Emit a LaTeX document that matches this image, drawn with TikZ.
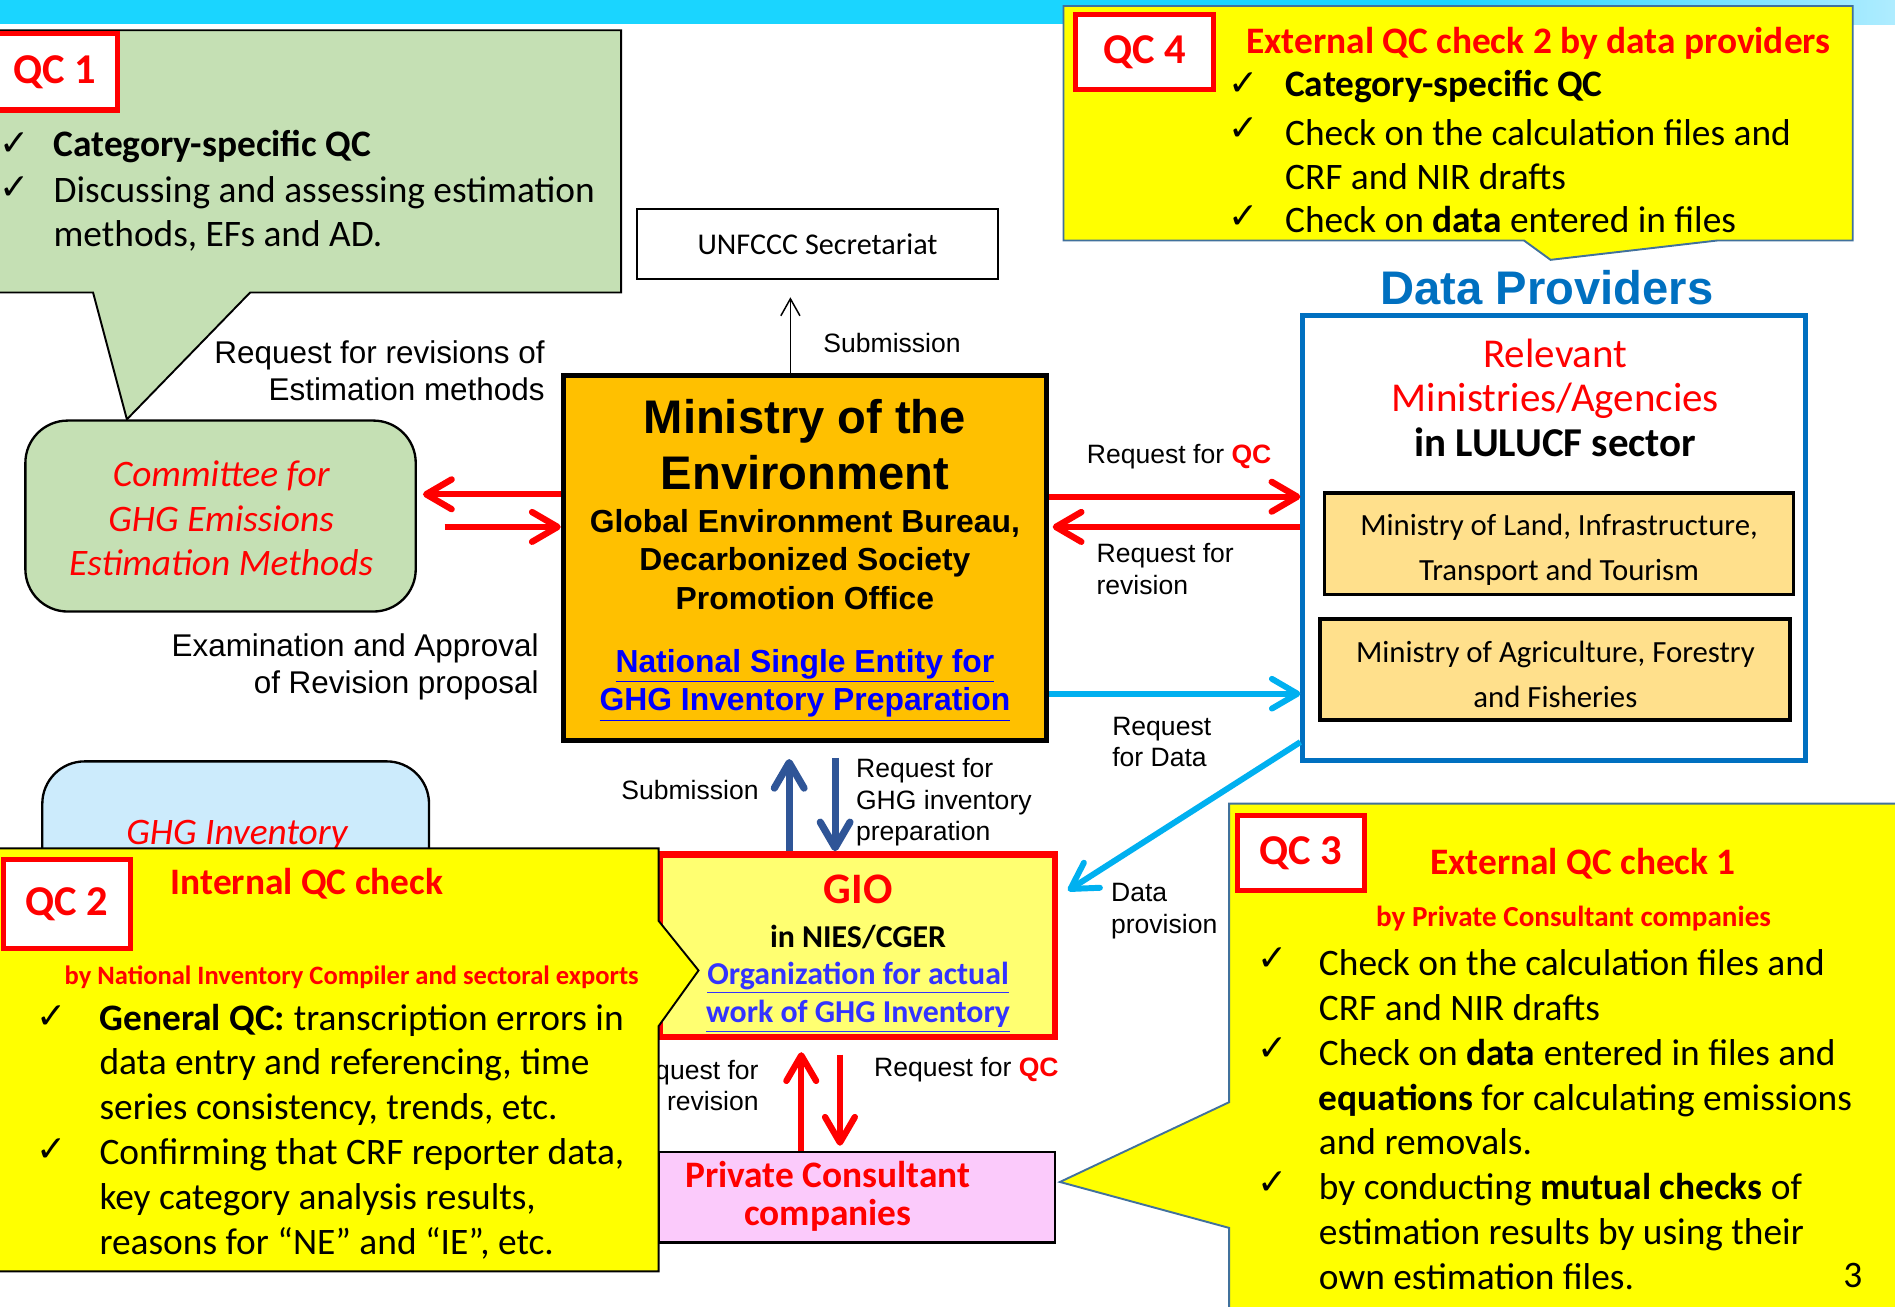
\documentclass[tikz,border=0pt]{standalone}
\usepackage{fontspec}
\setmainfont{Carlito}
\newfontfamily\arialfont{Liberation Sans}
\newfontfamily\symfont{DejaVu Sans}
\usetikzlibrary{arrows.meta,fit}

\definecolor{bandcyan}{RGB}{26,213,255}
\definecolor{bandlight}{RGB}{175,236,255}
\definecolor{qcgreen}{RGB}{197,224,180}
\definecolor{qcyellow}{RGB}{255,255,0}
\definecolor{qcred}{RGB}{255,0,0}
\definecolor{moeorange}{RGB}{255,192,0}
\definecolor{gioyellow}{RGB}{255,255,113}
\definecolor{pvtpink}{RGB}{251,202,251}
\definecolor{ghgblue}{RGB}{204,235,252}
\definecolor{mingold}{RGB}{255,224,140}
\definecolor{dpblue}{RGB}{0,112,192}
\definecolor{arrcyan}{RGB}{0,176,240}
\definecolor{arrblue}{RGB}{47,85,151}
\definecolor{callblue}{RGB}{65,113,156}
\definecolor{linkblue}{RGB}{0,0,255}
\definecolor{giolink}{RGB}{51,51,255}

\begin{document}
\begin{tikzpicture}[x=0.2mm, y=-0.2mm,
    box/.style={draw, inner sep=0pt},
    rbox/.style={draw, line width=1.1pt, rounded corners=7mm, inner sep=0pt},
    qclab/.style={draw=qcred, line width=2.5pt, fill=white, inner sep=0pt},
    qcnum/.style={text=qcred, font=\fontsize{20}{24}\selectfont\bfseries, inner sep=0pt},
    qctitle/.style={font=\fontsize{17.6}{21}\selectfont\bfseries, text=qcred, inner sep=0pt},
    qcsub/.style={font=\fontsize{12.5}{15}\selectfont\bfseries, text=qcred, inner sep=0pt},
    body/.style={font=\fontsize{17.6}{21}\selectfont, align=left, anchor=west, inner sep=0pt},
    chk/.style={font=\symfont\fontsize{17}{19}\selectfont, inner sep=0pt},
    biglbl/.style={font=\arialfont\fontsize{14.8}{17.6}\selectfont, align=right, anchor=east, inner sep=0pt},
    lbl/.style={font=\arialfont\fontsize{12.5}{14.8}\selectfont, align=left, anchor=west, inner sep=0pt},
    mintext/.style={font=\fontsize{14.5}{21}\selectfont, align=center, inner sep=0pt},
    callout/.style={line width=0.9pt},
    thinarr/.style={line width=0.7pt, -{Straight Barb[length=8pt,width=9pt]}},
    redarr/.style={draw=qcred, line width=3pt, -{Straight Barb[length=12pt,width=14pt,round]}},
    bluearr/.style={draw=arrblue, line width=3.4pt, -{Straight Barb[length=12pt,width=14pt,round]}},
    cyanarr/.style={draw=arrcyan, line width=2.8pt, -{Straight Barb[length=12pt,width=14pt,round]}}
]
\useasboundingbox (0,0) rectangle (1568,1081);
\fill[bandcyan] (0,0) rectangle (1200,20);
\shade[left color=bandcyan, right color=bandlight] (1199,0) rectangle (1568,20);

% QC 1
\draw[callout, fill=qcgreen] (-5,25) -- (514,25) -- (514,242) -- (207,242) -- (105,347) -- (77,242) -- (-5,242) -- cycle;
\node[qclab, fit={(-5,28) (97,91)}] (qc1) {};
\node[qcnum] (qc1num) at (45,60) {QC 1};
\node[chk] (qc1c1) at (12,119) {✓};
\node[chk] (qc1c2) at (12,156) {✓};
\node[body] (qc1t1) at (44,121) {\textbf{Category-specific QC}};
\node[body] (qc1t2) at (44,177) {Discussing and assessing estimation\\methods, EFs and AD.};

% central boxes
\node[box, line width=1.1pt, fit={(527,173) (826,231)}] (unf) {};
\node[font=\fontsize{14.2}{17}\selectfont, inner sep=0pt] (unftext) at (unf) {UNFCCC Secretariat};
\node[box, line width=2.3pt, fill=moeorange, fit={(466,311) (866,613)}] (moe) {};
\node[font=\arialfont\bfseries\fontsize{22.2}{26.2}\selectfont, align=center, inner sep=0pt] (moetitle) at (666,368) {Ministry of the\\Environment};
\node[font=\arialfont\bfseries\fontsize{15}{18}\selectfont, align=center, inner sep=0pt] (moesub) at (666,463) {Global Environment Bureau,\\Decarbonized Society\\Promotion Office};
\node[font=\arialfont\bfseries\fontsize{15}{18.2}\selectfont, align=center, text=linkblue, inner sep=0pt] (moelink) at (666,567) {\underline{National Single Entity for}\\\underline{GHG Inventory Preparation}};

\node[rbox, fill=qcgreen, fit={(21,348) (344,506)}] (comm) {};
\node[font=\fontsize{17.6}{21}\selectfont\itshape, text=qcred, align=center, inner sep=0pt] (commtext) at (183,429) {Committee for\\GHG Emissions\\Estimation Methods};
\node[rbox, fill=ghgblue, fit={(35,630) (355,780)}] (ghg) {};
\node[font=\fontsize{17.6}{21}\selectfont\itshape, text=qcred, inner sep=0pt] (ghgtext) at (196,691) {GHG Inventory};

\node[biglbl] (revreq) at (451,307) {Request for revisions of\\Estimation methods};
\node[biglbl] (exam) at (446,552) {Examination and Approval\\of Revision proposal};
\node[lbl] (subtop) at (681,284) {Submission};
\node[lbl, anchor=east] (subgio) at (628,654) {Submission};
\node[lbl] (reqghg) at (708,664) {Request for\\GHG inventory\\preparation};
\node[lbl, anchor=east, align=right] (reqrev) at (628,898) {Request for\\revision};
\node[lbl] (reqqc) at (723,885) {Request for \textcolor{qcred}{\textbf{QC}}};
\node[lbl] (reqqcdp) at (899,378) {Request for \textcolor{qcred}{\textbf{QC}}};
\node[lbl] (reqrevdp) at (907,471) {Request for\\revision};
\node[lbl] (reqdata) at (920,614) {Request\\for Data};
\node[lbl] (dataprov) at (919,754) {Data\\provision};

\node[box, draw=qcred, line width=3pt, fill=gioyellow, fit={(546,707) (873,858)}] (gio) {};
\node[font=\fontsize{20.5}{24}\selectfont\bfseries, text=qcred, inner sep=0pt] (giotitle) at (710,736) {GIO};
\node[font=\fontsize{15}{18}\selectfont\bfseries, inner sep=0pt] (gioin) at (710,775) {in NIES/CGER};
\node[font=\fontsize{15}{18.2}\selectfont\bfseries, text=giolink, align=center, inner sep=0pt] (giolink) at (710,825) {\underline{Organization for actual}\\\underline{work of GHG Inventory}};
\node[box, line width=1.1pt, fill=pvtpink, fit={(545,953) (873,1028)}] (pvt) {};
\node[font=\fontsize{17.6}{18.2}\selectfont\bfseries, text=qcred, align=center, inner sep=0pt] (pvttext) at (685,990) {Private Consultant\\companies};

% data providers
\node[font=\arialfont\bfseries\fontsize{22.2}{26}\selectfont, text=dpblue, inner sep=0pt] (dptitle) at (1280,238) {Data Providers};
\node[box, draw=dpblue, line width=2.3pt, fill=white, fit={(1078,261) (1494,629)}] (dp) {};
\node[font=\fontsize{19.3}{21}\selectfont, align=center, inner sep=0pt] (dprel) at (1287,329) {\textcolor{qcred}{Relevant}\\\textcolor{qcred}{Ministries/Agencies}\\\textbf{in LULUCF sector}};
\node[box, line width=1.7pt, fill=mingold, fit={(1096,408) (1484,492)}] (mlit) {};
\node[mintext] (mlittext) at (1290,455) {Ministry of Land, Infrastructure,\\Transport and Tourism};
\node[box, line width=1.7pt, fill=mingold, fit={(1092,512) (1481,596)}] (maff) {};
\node[mintext] (mafftext) at (1287,558) {Ministry of Agriculture, Forestry\\and Fisheries};

% arrows
\draw[thinarr, shorten >=2.8mm] (moe.north -| 654,0) -- (unf.south -| 654,0);
\draw[redarr, shorten >=1mm] (moe.west |- 0,409) -- (comm.east |- 0,409);
\draw[redarr, shorten <=4.6mm] (comm.east |- 0,436) -- (moe.west |- 0,436);
\draw[redarr] (moe.east |- 0,411) -- (dp.west |- 0,411);
\draw[redarr, shorten >=0.6mm] (dp.west |- 0,436) -- (moe.east |- 0,436);
\draw[cyanarr] (moe.east |- 0,574) -- (dp.west |- 0,574);
\draw[cyanarr, shorten >=1.9mm] (dp.west |- 0,614) -- (gio.east |- 0,742);
\draw[bluearr, shorten >=2.6mm] (gio.north -| 653,0) -- (moe.south -| 653,0);
\draw[bluearr, shorten <=2.4mm] (moe.south -| 691,0) -- (gio.north -| 691,0);
\draw[redarr, shorten >=2mm] (pvt.north -| 663,0) -- (gio.south -| 663,0);
\draw[redarr, shorten <=2.4mm, shorten >=0.8mm] (gio.south -| 695,0) -- (pvt.north -| 695,0);

% QC 2
\draw[callout, fill=qcyellow] (-5,702) -- (545,702) -- (545,762) -- (578,803) -- (545,849) -- (545,1052) -- (-5,1052) -- cycle;
\node[qclab, fit={(3,711) (108,785)}] (qc2) {};
\node[qcnum] (qc2num) at (qc2) {QC 2};
\node[qctitle] (qc2title) at (254,731) {Internal QC check};
\node[qcsub] (qc2sub) at (291,809) {by National Inventory Compiler and sectoral exports};
\node[chk] (qc2c1) at (43,842) {✓};
\node[chk] (qc2c2) at (43,952) {✓};
\node[body] (qc2t1) at (82,881) {\textbf{General QC:} transcription errors in\\data entry and referencing, time\\series consistency, trends, etc.};
\node[body] (qc2t2) at (82,992) {Confirming that CRF reporter data,\\key category analysis results,\\reasons for “NE” and “IE”, etc.};

% QC 4
\draw[callout, draw=callblue, fill=qcyellow] (880,5) -- (1533,5) -- (1533,199) -- (1421,199) -- (1283,215) -- (1261,199) -- (880,199) -- cycle;
\node[qclab, fit={(890,12) (1004,74)}] (qc4) {};
\node[qcnum] (qc4num) at (qc4) {QC 4};
\node[qctitle] (qc4title) at (1273,36) {External QC check 2 by data providers};
\node[chk] (qc4c1) at (1029,70) {✓};
\node[chk] (qc4c2) at (1029,107) {✓};
\node[chk] (qc4c3) at (1029,180) {✓};
\node[body] (qc4t1) at (1063,72) {\textbf{Category-specific QC}};
\node[body] (qc4t2) at (1063,128) {Check on the calculation files and\\CRF and NIR drafts};
\node[body] (qc4t3) at (1063,182) {Check on \textbf{data} entered in files};

% QC 3
\draw[callout, draw=callblue, fill=qcyellow] (1017,665) -- (1580,665) -- (1580,1090) -- (1017,1090) -- (1017,1016) -- (877,978) -- (1017,912) -- cycle;
\node[qclab, fit={(1024,675) (1129,737)}] (qc3) {};
\node[qcnum] (qc3num) at (qc3) {QC 3};
\node[qctitle] (qc3title) at (1310,715) {External QC check 1};
\node[qcsub, font=\fontsize{13.7}{16}\selectfont\bfseries] (qc3sub) at (1302,760) {by Private Consultant companies};
\node[chk] (qc3c1) at (1053,794) {✓};
\node[chk] (qc3c2) at (1053,868) {✓};
\node[chk] (qc3c3) at (1053,979) {✓};
\node[body] (qc3t1) at (1091,815) {Check on the calculation files and\\CRF and NIR drafts};
\node[body] (qc3t2) at (1091,908) {Check on \textbf{data} entered in files and\\\textbf{equations} for calculating emissions\\and removals.};
\node[body] (qc3t3) at (1091,1019) {by conducting \textbf{mutual checks} of\\estimation results by using their\\own estimation files.};
\node[font=\fontsize{17.6}{21}\selectfont, inner sep=0pt] (pagenum) at (1533,1055) {3};
\end{tikzpicture}
\end{document}
